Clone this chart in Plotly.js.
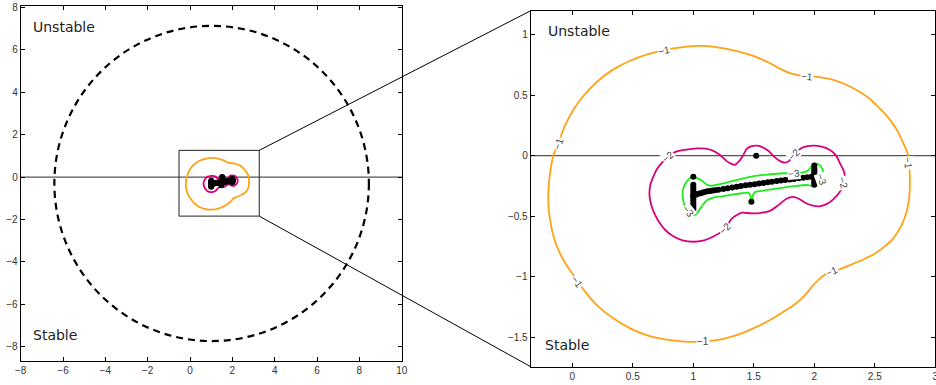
<!DOCTYPE html>
<html>
<head>
<meta charset="utf-8">
<script src="https://cdn.plot.ly/plotly-3.0.1.min.js"></script>
<style>
  html, body { margin: 0; padding: 0; background: #fff; }
  #plot { width: 936px; height: 385px; }
</style>
</head>
<body>
<div id="plot"></div>
<script>
// Level curves of the stability function (levels -1, -2, -3), in the complex plane (Re, Im)
const levelM1X = [1.05, 0.90, 0.77, 0.62, 0.477, 0.33, 0.20, 0.09, 0.008, -0.06, -0.11, -0.157, -0.185, -0.198, -0.195, -0.178, -0.157, -0.11, -0.05, 0.008, 0.10, 0.202, 0.33, 0.477, 0.64, 0.807, 0.95, 1.10, 1.25, 1.40, 1.496, 1.634, 1.744, 1.84, 1.923, 1.99, 2.05, 2.10, 2.171, 2.295, 2.40, 2.488, 2.58, 2.653, 2.72, 2.763, 2.785, 2.79, 2.786, 2.777, 2.755, 2.736, 2.69, 2.626, 2.53, 2.433, 2.30, 2.157, 2.05, 1.95, 1.88, 1.80, 1.72, 1.634, 1.50, 1.36, 1.20, 1.05];
const levelM1Y = [0.905, 0.893, 0.872, 0.835, 0.782, 0.705, 0.605, 0.49, 0.377, 0.25, 0.12, 0.0, -0.15, -0.30, -0.45, -0.56, -0.66, -0.79, -0.90, -0.984, -1.115, -1.232, -1.335, -1.424, -1.488, -1.521, -1.535, -1.532, -1.51, -1.465, -1.424, -1.355, -1.287, -1.225, -1.149, -1.07, -1.01, -0.975, -0.951, -0.902, -0.858, -0.815, -0.75, -0.682, -0.575, -0.462, -0.34, -0.2, -0.1, 0.0, 0.06, 0.102, 0.2, 0.295, 0.40, 0.487, 0.568, 0.625, 0.645, 0.655, 0.662, 0.68, 0.715, 0.762, 0.82, 0.862, 0.893, 0.905];

const levelM2X = [0.74, 0.80, 0.863, 0.945, 1.03, 1.10, 1.165, 1.22, 1.276, 1.32, 1.345, 1.375, 1.41, 1.441, 1.482, 1.524, 1.56, 1.62, 1.67, 1.717, 1.758, 1.79, 1.826, 1.87, 1.91, 1.99, 2.06, 2.13, 2.18, 2.212, 2.245, 2.254, 2.24, 2.21, 2.157, 2.10, 2.04, 1.98, 1.937, 1.88, 1.826, 1.77, 1.70, 1.634, 1.55, 1.469, 1.40, 1.36, 1.317, 1.28, 1.24, 1.17, 1.09, 1.0, 0.91, 0.835, 0.77, 0.725, 0.68, 0.656, 0.638, 0.645, 0.67, 0.70, 0.74];
const levelM2Y = [-0.06, 0.0, 0.035, 0.05, 0.06, 0.058, 0.04, 0.006, -0.045, -0.07, -0.075, -0.05, 0.0, 0.055, 0.078, 0.083, 0.075, 0.04, -0.01, -0.045, -0.058, -0.045, 0.0, 0.045, 0.07, 0.083, 0.075, 0.047, 0.0, -0.063, -0.13, -0.18, -0.24, -0.30, -0.36, -0.40, -0.418, -0.41, -0.395, -0.36, -0.34, -0.355, -0.41, -0.455, -0.473, -0.475, -0.47, -0.49, -0.52, -0.575, -0.62, -0.665, -0.698, -0.71, -0.698, -0.665, -0.615, -0.56, -0.48, -0.42, -0.33, -0.24, -0.173, -0.11, -0.06];

const levelM3X = [0.99, 1.03, 1.069, 1.11, 1.14, 1.20, 1.276, 1.38, 1.50, 1.62, 1.744, 1.84, 1.91, 1.95, 1.975, 2.0, 2.03, 2.055, 2.075, 2.07, 2.045, 2.01, 1.97, 1.937, 1.83, 1.717, 1.60, 1.51, 1.492, 1.486, 1.478, 1.472, 1.455, 1.40, 1.33, 1.24, 1.17, 1.11, 1.069, 1.035, 1.01, 0.975, 0.945, 0.925, 0.912, 0.915, 0.935, 0.96, 0.99];
const levelM3Y = [-0.175, -0.185, -0.205, -0.238, -0.248, -0.238, -0.222, -0.195, -0.168, -0.155, -0.145, -0.142, -0.138, -0.12, -0.09, -0.068, -0.07, -0.09, -0.135, -0.18, -0.225, -0.252, -0.248, -0.242, -0.252, -0.268, -0.285, -0.30, -0.33, -0.375, -0.375, -0.33, -0.305, -0.31, -0.32, -0.335, -0.345, -0.37, -0.42, -0.47, -0.49, -0.48, -0.45, -0.40, -0.34, -0.28, -0.23, -0.195, -0.175];

// Eigenvalues
const chainX = [1.00, 1.02, 1.04, 1.06, 1.08, 1.10, 1.12, 1.14, 1.16, 1.18, 1.207, 1.248, 1.284, 1.322, 1.359, 1.394, 1.433, 1.469, 1.507, 1.543, 1.579, 1.615, 1.650, 1.689, 1.725, 1.760, 1.797, 1.832, 1.871, 1.907, 1.942, 1.978, 2.0];
const chainY = [-0.330, -0.322, -0.315, -0.309, -0.303, -0.298, -0.294, -0.291, -0.288, -0.285, -0.282, -0.275, -0.269, -0.263, -0.257, -0.251, -0.245, -0.240, -0.235, -0.230, -0.225, -0.220, -0.215, -0.210, -0.205, -0.201, -0.196, -0.192, -0.187, -0.183, -0.179, -0.175, -0.172];
const leftColX = [1.0, 1.0, 1.0, 1.0, 1.0, 1.0, 1.0, 1.0, 1.0, 1.0, 1.0, 1.0, 1.0];
const leftColY = [-0.173, -0.24, -0.26, -0.28, -0.30, -0.32, -0.34, -0.36, -0.38, -0.40, -0.42, -0.435, -0.456];
const rightColX = [2.0, 2.0, 2.0, 2.0, 2.0, 2.0, 2.0, 2.0, 2.0, 2.0, 2.0];
const rightColY = [-0.082, -0.105, -0.12, -0.135, -0.15, -0.165, -0.18, -0.195, -0.21, -0.225, -0.24];
const loneX = [1.52, 1.48];
const loneY = [0.0, -0.38];

// Bounding circle of the spectrum
const circleCenter = [1.02, -0.30];
const circleRadius = 7.43;

// Magnified window shown on the right
const zoomBoxX = [-0.52, 3.27];
const zoomBoxY = [-1.84, 1.26];

// Ticks
const leftXTicks = [-8, -6, -4, -2, 0, 2, 4, 6, 8, 10];
const leftYTicks = [-8, -6, -4, -2, 0, 2, 4, 6, 8];
const rightXTicks = [0, 0.5, 1, 1.5, 2, 2.5, 3];
const rightYTicks = [-1.5, -1, -0.5, 0, 0.5, 1];

// Level labels on the magnified view
const labelText = ['\u22121', '\u22121', '\u22121', '\u22121', '\u22121', '\u22121', '\u22121',
                   '\u22122', '\u22122', '\u22122', '\u22122',
                   '\u22123', '\u22123', '\u22123'];
const labelX = [0.76, 1.94, -0.116, 0.036, 1.083, 2.144, 2.777, 0.794, 1.832, 2.24, 1.262, 1.835, 2.058, 0.959];
const labelY = [0.87, 0.652, 0.102, -1.04, -1.53, -0.957, -0.063, -0.008, 0.01, -0.228, -0.60, -0.147, -0.2, -0.462];
const labelAngle = [-12, 5, -70, 55, 0, -25, 85, -40, -45, 75, -45, -5, 70, 50];

const ORANGE = '#ffa216';
const MAGENTA = '#d8007c';
const GREEN = '#1fec1f';

const dotsX = chainX.concat(leftColX, rightColX, loneX);
const dotsY = chainY.concat(leftColY, rightColY, loneY);

function levelTrace(xs, ys, color, xa, ya) {
  return { type: 'scatter', mode: 'lines', x: xs, y: ys, xaxis: xa, yaxis: ya,
           line: { color: color, width: 1.8, shape: 'spline', smoothing: 0.6 },
           hoverinfo: 'skip', showlegend: false };
}
function dotTrace(xa, ya) {
  return { type: 'scatter', mode: 'markers', x: dotsX, y: dotsY, xaxis: xa, yaxis: ya,
           marker: { color: '#000', size: 6, line: { width: 0 } },
           hoverinfo: 'skip', showlegend: false, cliponaxis: true };
}

const traces = [];
[['x', 'y'], ['x2', 'y2']].forEach(([xa, ya]) => {
  traces.push(levelTrace(levelM1X, levelM1Y, ORANGE, xa, ya));
  traces.push(levelTrace(levelM2X, levelM2Y, MAGENTA, xa, ya));
  traces.push(levelTrace(levelM3X, levelM3Y, GREEN, xa, ya));
  traces.push(dotTrace(xa, ya));
});

const W = 936, H = 385;
const axisCommon = {
  showline: true, linecolor: '#000', linewidth: 1, mirror: 'ticks',
  ticks: 'inside', ticklen: 4, tickwidth: 1, tickcolor: '#000',
  showgrid: false, zeroline: false, tickmode: 'array',
  tickfont: { family: 'Liberation Sans, Arial, sans-serif', size: 10, color: '#333' },
  ticklabeloverflow: 'allow',
  automargin: false, fixedrange: true
};

const xaxis = Object.assign({}, axisCommon, { domain: [20.7 / W, 401.7 / W], range: [-8, 10], tickvals: leftXTicks, anchor: 'y' });
const yaxis = Object.assign({}, axisCommon, { domain: [1 - 361 / H, 1 - 5.7 / H], range: [-8.67, 8.08], tickvals: leftYTicks, anchor: 'x' });
const xaxis2 = Object.assign({}, axisCommon, { domain: [530.7 / W, 935.3 / W], range: [-0.344, 3.0], tickvals: rightXTicks, anchor: 'y2' });
const yaxis2 = Object.assign({}, axisCommon, { domain: [1 - 366.7 / H, 1 - 10.7 / H], range: [-1.74, 1.195], tickvals: rightYTicks, anchor: 'x2' });

function toPaper(x, y, xa, ya) {
  return [
    xa.domain[0] + (x - xa.range[0]) / (xa.range[1] - xa.range[0]) * (xa.domain[1] - xa.domain[0]),
    ya.domain[0] + (y - ya.range[0]) / (ya.range[1] - ya.range[0]) * (ya.domain[1] - ya.domain[0])
  ];
}
const boxTop = toPaper(zoomBoxX[1], zoomBoxY[1], xaxis, yaxis);
const boxBot = toPaper(zoomBoxX[1], zoomBoxY[0], xaxis, yaxis);

const shapes = [
  // real axis
  { type: 'line', xref: 'x domain', yref: 'y', x0: 0, x1: 1, y0: 0, y1: 0, layer: 'below', line: { color: '#555', width: 1.2 } },
  { type: 'line', xref: 'x2 domain', yref: 'y2', x0: 0, x1: 1, y0: 0, y1: 0, layer: 'below', line: { color: '#555', width: 1.2 } },
  // bounding circle
  { type: 'circle', xref: 'x', yref: 'y',
    x0: circleCenter[0] - circleRadius, x1: circleCenter[0] + circleRadius,
    y0: circleCenter[1] - circleRadius, y1: circleCenter[1] + circleRadius,
    line: { color: '#000', width: 2.2, dash: '7px,5px' } },
  // magnified window
  { type: 'rect', xref: 'x', yref: 'y', x0: zoomBoxX[0], x1: zoomBoxX[1], y0: zoomBoxY[0], y1: zoomBoxY[1],
    line: { color: '#222', width: 1 } },
  // connectors to the magnified view
  { type: 'line', xref: 'paper', yref: 'paper', x0: boxTop[0], y0: boxTop[1], x1: xaxis2.domain[0], y1: yaxis2.domain[1],
    line: { color: '#000', width: 1 } },
  { type: 'line', xref: 'paper', yref: 'paper', x0: boxBot[0], y0: boxBot[1], x1: xaxis2.domain[0], y1: yaxis2.domain[0],
    line: { color: '#000', width: 1 } }
];

const regionFont = { family: 'DejaVu Sans, sans-serif', size: 14, color: '#222' };
const annotations = [
  { xref: 'x', yref: 'y', x: -7.53, y: 7.08, text: 'Unstable', showarrow: false, xanchor: 'left', yanchor: 'middle', font: regionFont },
  { xref: 'x', yref: 'y', x: -7.52, y: -7.45, text: 'Stable', showarrow: false, xanchor: 'left', yanchor: 'middle', font: regionFont },
  { xref: 'x2', yref: 'y2', x: -0.217, y: 1.03, text: 'Unstable', showarrow: false, xanchor: 'left', yanchor: 'middle', font: regionFont },
  { xref: 'x2', yref: 'y2', x: -0.245, y: -1.562, text: 'Stable', showarrow: false, xanchor: 'left', yanchor: 'middle', font: regionFont }
];
labelText.forEach((t, i) => {
  annotations.push({
    xref: 'x2', yref: 'y2', x: labelX[i], y: labelY[i], text: t, showarrow: false,
    textangle: labelAngle[i], bgcolor: '#fff', borderpad: 0,
    font: { family: 'Liberation Sans, Arial, sans-serif', size: 10, color: '#444' }
  });
});

const layout = {
  width: W, height: H,
  margin: { l: 0, r: 0, t: 0, b: 0, pad: 0 },
  paper_bgcolor: '#fff', plot_bgcolor: '#fff',
  showlegend: false, hovermode: false,
  xaxis: xaxis, yaxis: yaxis, xaxis2: xaxis2, yaxis2: yaxis2,
  shapes: shapes, annotations: annotations
};

Plotly.newPlot('plot', traces, layout, { staticPlot: true, displayModeBar: false });
</script>
</body>
</html>
